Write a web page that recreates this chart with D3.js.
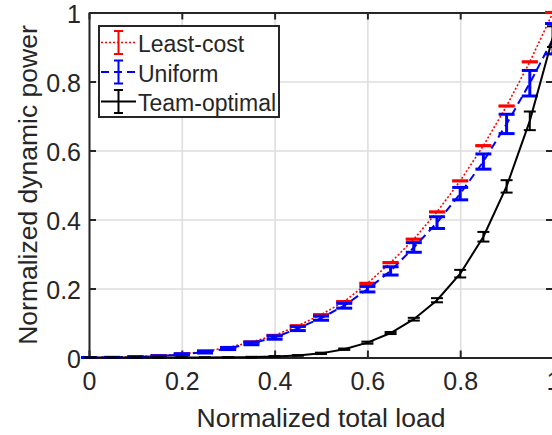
<!DOCTYPE html>
<html>
<head>
<meta charset="utf-8">
<script src="https://cdn.jsdelivr.net/npm/d3@7"></script>
<style>
  html, body { margin: 0; padding: 0; background: #fff; }
  svg { display: block; }
  text { font-family: "Liberation Sans", Arial, Helvetica, sans-serif; fill: #262626; }
</style>
</head>
<body>
<svg id="chart" width="552" height="435"></svg>
<script>
// Normalized total load (x) for every sample
const loads = [0, 0.05, 0.1, 0.15, 0.2, 0.25, 0.3, 0.35, 0.4, 0.45, 0.5,
               0.55, 0.6, 0.65, 0.7, 0.75, 0.8, 0.85, 0.9, 0.95, 1.0];

// Least-cost allocation: mean dynamic power and error half-width
const leastCost = [0, 0.0005, 0.002, 0.005, 0.010, 0.018, 0.029, 0.045, 0.064, 0.092, 0.124,
                   0.162, 0.215, 0.275, 0.343, 0.422, 0.512, 0.614, 0.729, 0.857, 1.0];
const leastCostErr = [0, 0, 0, 0.001, 0.001, 0.001, 0.001, 0.001, 0.001, 0.001, 0.001,
                      0.001, 0.001, 0.001, 0.001, 0.001, 0.001, 0.001, 0.001, 0.001, 0.001];

// Uniform allocation
const uniform = [0, 0.0003, 0.0015, 0.004, 0.009, 0.016, 0.026, 0.041, 0.058, 0.084, 0.114,
                 0.150, 0.198, 0.251, 0.319, 0.391, 0.475, 0.568, 0.677, 0.795, 0.924];
const uniformErr = [0, 0, 0.001, 0.001, 0.002, 0.003, 0.003, 0.004, 0.005, 0.006, 0.006,
                    0.007, 0.008, 0.012, 0.014, 0.017, 0.018, 0.022, 0.028, 0.037, 0.044];

// Team-optimal allocation
const teamOptimal = [0, 0, 0, 0, 0.0001, 0.0002, 0.0005, 0.001, 0.003, 0.006, 0.012,
                     0.024, 0.043, 0.071, 0.111, 0.166, 0.243, 0.350, 0.496, 0.686, 0.930];
const teamOptimalErr = [0, 0, 0, 0, 0, 0, 0, 0.001, 0.001, 0.001, 0.002,
                        0.002, 0.003, 0.003, 0.004, 0.006, 0.011, 0.014, 0.018, 0.027, 0.030];

const xTicks = [0, 0.2, 0.4, 0.6, 0.8, 1];
const yTicks = [0, 0.2, 0.4, 0.6, 0.8, 1];
const xTickLabels = ["0", "0.2", "0.4", "0.6", "0.8", "1"];
const yTickLabels = ["0", "0.2", "0.4", "0.6", "0.8", "1"];
const seriesNames = ["Least-cost", "Uniform", "Team-optimal"];

const xLabel = "Normalized total load";
const yLabel = "Normalized dynamic power";

// ---- layout ----
const plot = { left: 89, right: 553, top: 12.5, bottom: 357.5 };
const axisColor = "#262626";
const gridColor = "#dedede";

const x = d3.scaleLinear().domain([0, 1]).range([plot.left, plot.right]);
const y = d3.scaleLinear().domain([0, 1]).range([plot.bottom, plot.top]);

const svg = d3.select("#chart");

// grid
const grid = svg.append("g");
grid.append("g")
  .attr("transform", `translate(0,${plot.bottom})`)
  .call(d3.axisBottom(x).tickValues(xTicks).tickSize(-(plot.bottom - plot.top)).tickFormat(""))
  .call(g => g.select(".domain").remove())
  .call(g => g.selectAll("line").attr("stroke", gridColor).attr("stroke-width", 1.6));
grid.append("g")
  .attr("transform", `translate(${plot.left},0)`)
  .call(d3.axisLeft(y).tickValues(yTicks).tickSize(-(plot.right - plot.left)).tickFormat(""))
  .call(g => g.select(".domain").remove())
  .call(g => g.selectAll("line").attr("stroke", gridColor).attr("stroke-width", 1.6));

// axes box with inward ticks
function styleAxis(g) {
  g.select(".domain").attr("stroke", axisColor).attr("stroke-width", 2);
  g.selectAll(".tick line").attr("stroke", axisColor).attr("stroke-width", 2);
}
svg.append("g")
  .attr("transform", `translate(0,${plot.bottom})`)
  .call(d3.axisBottom(x).tickValues(xTicks).tickSizeInner(-7).tickSizeOuter(0)
        .tickPadding(15).tickFormat((d, i) => xTickLabels[i]))
  .call(styleAxis)
  .call(g => g.selectAll("text").style("font-size", "25px").attr("fill", axisColor));
svg.append("g")
  .attr("transform", `translate(0,${plot.top})`)
  .call(d3.axisTop(x).tickValues(xTicks).tickSizeInner(-7).tickSizeOuter(0).tickFormat(""))
  .call(styleAxis);
svg.append("g")
  .attr("transform", `translate(${plot.left},0)`)
  .call(d3.axisLeft(y).tickValues(yTicks).tickSizeInner(-7).tickSizeOuter(0)
        .tickPadding(8).tickFormat((d, i) => yTickLabels[i]))
  .call(styleAxis)
  .call(g => g.selectAll("text").style("font-size", "25px").attr("fill", axisColor).attr("dy", "0.38em"));
svg.append("g")
  .attr("transform", `translate(${plot.right},0)`)
  .call(d3.axisRight(y).tickValues(yTicks).tickSizeInner(-7).tickSizeOuter(0).tickFormat(""))
  .call(styleAxis);

// axis titles
svg.append("text")
  .attr("x", (plot.left + plot.right) / 2).attr("y", 427)
  .attr("text-anchor", "middle").style("font-size", "26.5px")
  .text(xLabel);
svg.append("text")
  .attr("transform", `translate(37,${(plot.top + plot.bottom) / 2}) rotate(-90)`)
  .attr("text-anchor", "middle").style("font-size", "26.5px")
  .text(yLabel);

// ---- series ----
const series = [
  { name: seriesNames[0], values: leastCost, err: leastCostErr, color: "#ff0000",
    dash: "2,2", lineWidth: 1.6, barWidth: 2.5, cap: 16 },
  { name: seriesNames[1], values: uniform, err: uniformErr, color: "#0000ff",
    dash: "8,5", lineWidth: 2, barWidth: 3, cap: 16 },
  { name: seriesNames[2], values: teamOptimal, err: teamOptimalErr, color: "#000000",
    dash: null, lineWidth: 2, barWidth: 2, cap: 12 }
];

const line = d3.line().x(d => x(d[0])).y(d => y(d[1]));

series.forEach(s => {
  const g = svg.append("g");
  const pts = loads.map((l, i) => [l, s.values[i], s.err[i]]);
  g.append("path")
    .datum(pts)
    .attr("d", line)
    .attr("fill", "none")
    .attr("stroke", s.color)
    .attr("stroke-width", s.lineWidth)
    .attr("stroke-dasharray", s.dash);
  const bars = g.selectAll(".bar").data(pts).join("g").attr("class", "bar")
    .attr("stroke", s.color).attr("stroke-width", s.barWidth);
  bars.append("line")
    .attr("x1", d => x(d[0])).attr("x2", d => x(d[0]))
    .attr("y1", d => y(d[1] - d[2])).attr("y2", d => y(d[1] + d[2]));
  bars.append("line")
    .attr("x1", d => x(d[0]) - s.cap / 2).attr("x2", d => x(d[0]) + s.cap / 2)
    .attr("y1", d => y(d[1] + d[2])).attr("y2", d => y(d[1] + d[2]));
  bars.append("line")
    .attr("x1", d => x(d[0]) - s.cap / 2).attr("x2", d => x(d[0]) + s.cap / 2)
    .attr("y1", d => y(d[1] - d[2])).attr("y2", d => y(d[1] - d[2]));
});

// ---- legend ----
const legend = svg.append("g");
legend.append("rect")
  .attr("x", 99).attr("y", 26).attr("width", 180).attr("height", 91)
  .attr("fill", "#fff").attr("stroke", axisColor).attr("stroke-width", 2);
series.forEach((s, i) => {
  const cy = 42.5 + i * 29.5;
  const item = legend.append("g");
  item.append("line")
    .attr("x1", 101).attr("x2", 136).attr("y1", cy).attr("y2", cy)
    .attr("stroke", s.color).attr("stroke-width", s.lineWidth)
    .attr("stroke-dasharray", s.dash);
  const bx = 118.5;
  item.append("line").attr("x1", bx).attr("x2", bx).attr("y1", cy - 11.5).attr("y2", cy + 11.5)
    .attr("stroke", s.color).attr("stroke-width", 2);
  [cy - 11.5, cy + 11.5].forEach(yy => {
    item.append("line").attr("x1", bx - 4.5).attr("x2", bx + 4.5).attr("y1", yy).attr("y2", yy)
      .attr("stroke", s.color).attr("stroke-width", 2);
  });
  item.append("text")
    .attr("x", 138).attr("y", cy + 9.5)
    .style("font-size", "23px")
    .text(s.name);
});
</script>
</body>
</html>
